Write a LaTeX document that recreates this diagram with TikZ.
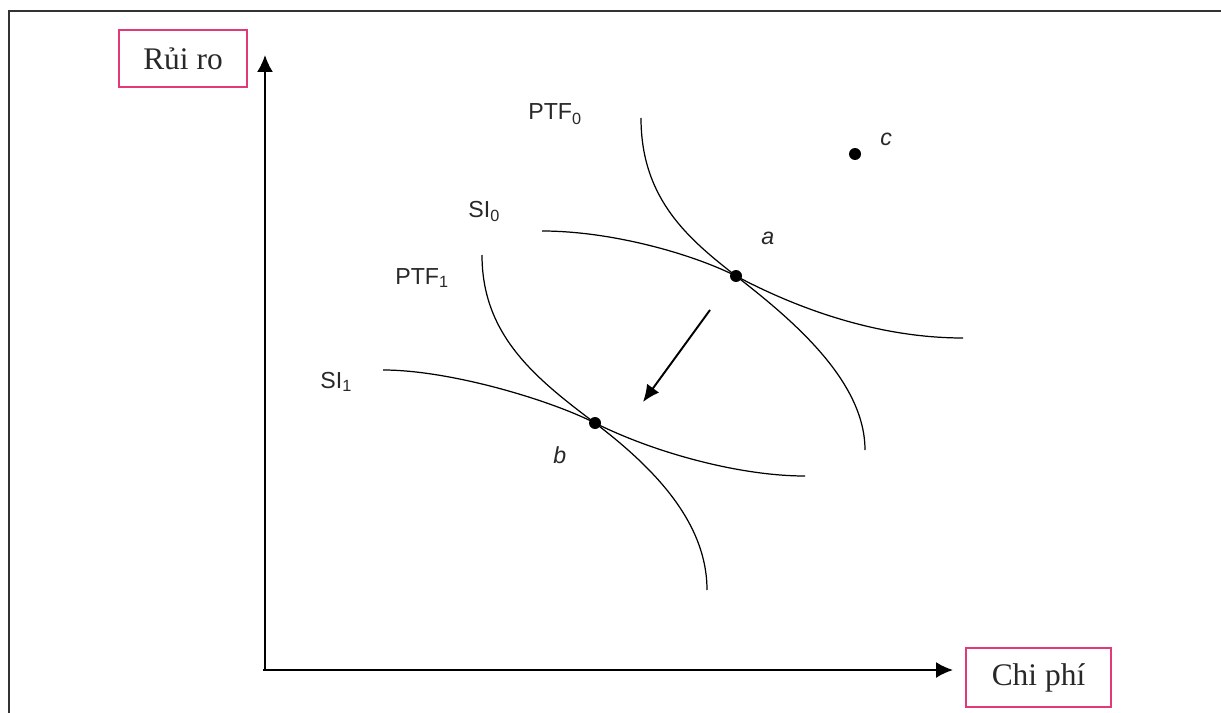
\documentclass[tikz,border=0pt]{standalone}
\usepackage{fontspec}
\setmainfont{Liberation Serif}
\newfontfamily\arialf{Liberation Sans}
\usetikzlibrary{arrows.meta}
\definecolor{boxpink}{RGB}{226,58,120}
\definecolor{txt}{RGB}{40,40,40}
\tikzset{
  axisline/.style={line width=1.1pt,-{Latex[length=0.34cm,width=0.32cm]}},
  curveline/.style={line width=0.7pt},
  shiftarrow/.style={line width=1.1pt,-{Latex[length=0.34cm,width=0.3cm]}},
  dotnode/.style={circle,fill=black,inner sep=0pt,minimum size=0.24cm},
  lbl/.style={font=\arialf\fontsize{13.2}{15}\selectfont,text=txt,inner sep=0pt,anchor=base west},
  ilbl/.style={font=\arialf\itshape\fontsize{13.2}{15}\selectfont,text=txt,inner sep=0pt,anchor=base west},
  axbox/.style={draw=boxpink,line width=1.2pt,text=txt,font=\fontsize{17.9}{20}\selectfont,inner sep=0pt},
  framel/.style={line width=1.1pt,black!80}
}
\begin{document}
\begin{tikzpicture}[x=0.02cm,y=-0.02cm]
\useasboundingbox (0,0) rectangle (1221,713);
% frame
\coordinate (fTR) at (1221,11);
\coordinate (fTL) at (9,11);
\coordinate (fBL) at (9,713);
\draw[framel] (fTR) -- (fTL) -- (fBL);
% axes
\coordinate (O) at (265,670);
\coordinate (Ytip) at (265,55);
\coordinate (Xtip) at (953,670);
\draw[axisline] (O) -- (Ytip);
\draw[axisline] ([xshift=-1pt]O) -- (Xtip);
% axis labels
\node[axbox,minimum width=2.56cm,minimum height=1.14cm] (yl) at (183,58.5) {Rủi ro};
\node[axbox,minimum width=2.9cm,minimum height=1.18cm] (xl) at (1038.5,677.5) {Chi phí};
% points
\node[dotnode] (a) at (736,276) {};
\node[dotnode] (b) at (595,423) {};
\node[dotnode] (c) at (855,154) {};
% curves
\draw[curveline] (641,118) .. controls (641,200) and (690,240) .. (a.center)
                 .. controls (790,318) and (865,380) .. (865,450);
\draw[curveline] (542,231) .. controls (610,231) and (690,253) .. (a.center)
                 .. controls (800,310) and (880,338) .. (963,338);
\draw[curveline] (482,255) .. controls (482,335) and (535,378) .. (b.center)
                 .. controls (650,465) and (707,520) .. (707,590);
\draw[curveline] (383,370) .. controls (450,370) and (550,400) .. (b.center)
                 .. controls (655,453) and (740,476) .. (805,476);
% shift arrow
\coordinate (s0) at (710,310);
\coordinate (s1) at (643,402);
\draw[shiftarrow] (s0) -- (s1);
% labels
\node[lbl] (ptf0) at (528,120) {PTF\textsubscript{0}};
\node[lbl] (si0) at (468,217) {SI\textsubscript{0}};
\node[lbl] (ptf1) at (395,284) {PTF\textsubscript{1}};
\node[lbl] (si1) at (320,388) {SI\textsubscript{1}};
\node[ilbl] (la) at (761,244) {a};
\node[ilbl] (lb) at (553,463) {b};
\node[ilbl] (lc) at (880,146) {c};
\end{tikzpicture}
\end{document}
